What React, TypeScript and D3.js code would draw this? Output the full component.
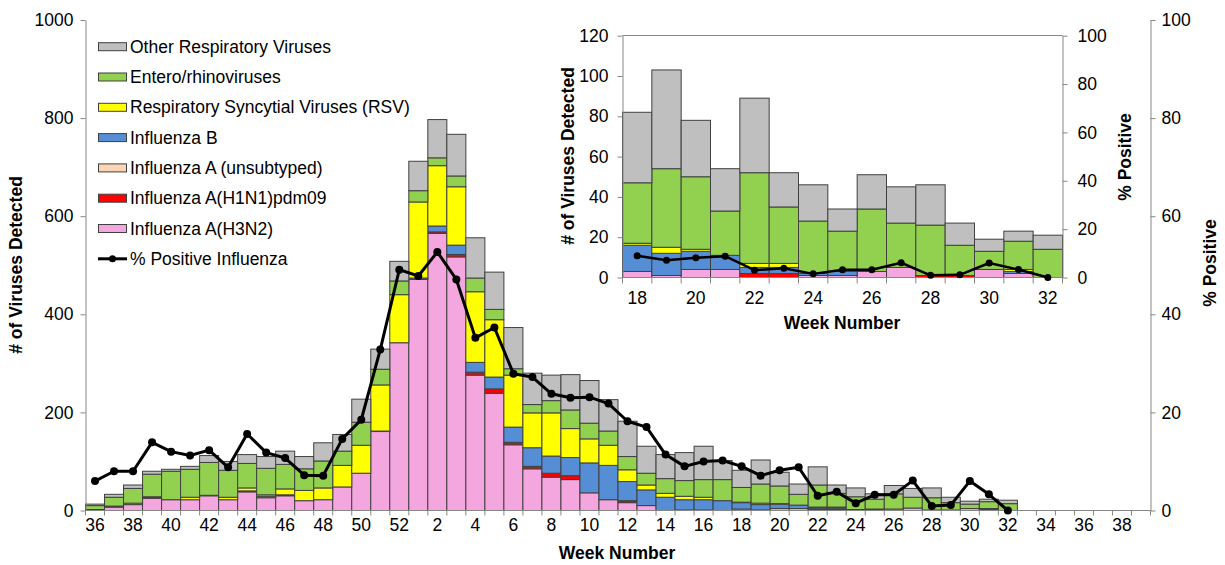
import React, { useEffect, useRef } from "react";
import * as d3 from "d3";

// x categories: surveillance weeks 36..52 then 1..39
const weeks = [36, 37, 38, 39, 40, 41, 42, 43, 44, 45, 46, 47, 48, 49, 50, 51, 52,
  1, 2, 3, 4, 5, 6, 7, 8, 9, 10, 11, 12, 13, 14, 15, 16, 17, 18, 19, 20,
  21, 22, 23, 24, 25, 26, 27, 28, 29, 30, 31, 32, 33, 34, 35, 36, 37, 38, 39];

// values for weeks 36..52, 1..32
const h3n2 = [2, 7, 12, 25, 22, 22, 30, 22, 38, 26, 30, 20, 22, 48, 76, 161, 342,
  471, 565, 517, 276, 239, 134, 85, 68, 63, 36, 22, 16, 10, 0, 0, 1, 0, 3, 1, 4, 4, 0, 0, 1, 1, 3, 5, 0, 0, 4, 2, 0];
const h1n1 = [0, 2, 0, 3, 0, 0, 1, 0, 0, 0, 0, 0, 0, 0, 0, 0, 0,
  0, 3, 5, 6, 9, 5, 5, 8, 8, 0, 0, 4, 0, 0, 1, 0, 0, 0, 0, 0, 0, 2, 2, 0, 0, 0, 0, 1, 1, 0, 0, 0];
const fluAUnsub = [0, 0, 0, 0, 0, 0, 0, 0, 2, 0, 0, 0, 0, 0, 0, 0, 0,
  0, 0, 0, 0, 0, 0, 0, 0, 0, 0, 0, 0, 0, 0, 0, 0, 0, 0, 0, 0, 0, 0, 0, 0, 0, 0, 0, 0, 0, 0, 0, 0];
const fluB = [0, 0, 0, 0, 0, 0, 0, 0, 0, 3, 2, 0, 0, 0, 0, 1, 0,
  3, 12, 19, 20, 24, 31, 38, 35, 37, 61, 70, 39, 32, 27, 21, 21, 20, 13, 11, 9, 7, 3, 3, 1, 2, 0, 0, 0, 0, 0, 1, 0];
const rsv = [0, 0, 3, 0, 0, 5, 0, 5, 6, 3, 12, 21, 24, 44, 57, 94, 98,
  155, 123, 119, 144, 117, 106, 71, 88, 59, 49, 41, 24, 10, 8, 7, 5, 0, 1, 3, 1, 0, 2, 2, 0, 0, 0, 0, 0, 0, 0, 1, 0];
const entero = [8, 18, 30, 46, 58, 57, 67, 55, 50, 54, 50, 44, 55, 29, 47, 32, 28,
  23, 16, 22, 28, 21, 13, 17, 25, 38, 32, 29, 27, 24, 30, 32, 36, 43, 30, 39, 36, 22, 45, 28, 26, 20, 31, 22, 25, 15, 9, 14, 14];
const other = [3, 6, 7, 6, 4, 6, 14, 18, 18, 24, 27, 25, 37, 34, 47, 41, 40,
  60, 78, 85, 82, 76, 84, 64, 52, 72, 87, 64, 72, 55, 49, 57, 68, 39, 35, 49, 28, 21, 37, 17, 18, 11, 17, 18, 20, 11, 6, 5, 7];
const pctPositive = [6.0, 8.0, 8.0, 13.9, 12.0, 11.2, 12.3, 8.8, 15.6, 11.8, 10.7, 7.2, 7.1, 14.6, 18.5, 32.8, 49.1,
  47.8, 52.7, 47.1, 35.2, 37.3, 27.9, 27.2, 23.8, 23.0, 23.1, 21.8, 18.2, 17.0, 11.4, 9.0, 10.0, 10.2,
  9.0, 7.1, 8.2, 8.8, 3.0, 3.8, 1.5, 3.2, 3.2, 6.1, 0.9, 1.1, 6.0, 3.3, 0];

const seriesKeys = ["h3n2", "h1n1", "unsub", "fluB", "rsv", "entero", "other"];
const seriesNames = ["Influenza A(H3N2)", "Influenza A(H1N1)pdm09", "Influenza A (unsubtyped)",
  "Influenza B", "Respiratory Syncytial Viruses (RSV)", "Entero/rhinoviruses", "Other Respiratory Viruses"];
const seriesColors = ["#F4A7DF", "#FF0000", "#FCD5B5", "#558ED5", "#FFFF00", "#92D050", "#BFBFBF"];

const mainYTicks = [0, 200, 400, 600, 800, 1000];
const insetYTicks = [0, 20, 40, 60, 80, 100, 120];
const pctTicks = [0, 20, 40, 60, 80, 100];
const insetStartWeek = 18;
const insetWeekCount = 15;

const FONT = "'Liberation Sans', Arial, sans-serif";
const AXIS = "#868686";
const FS = 17.5;

const App = () => {
  const ref = useRef<SVGSVGElement>(null);

  useEffect(() => {
    const svg = d3.select(ref.current);
    svg.selectAll("*").remove();
    svg.attr("font-family", FONT);

    const rows = h3n2.map((_, i) => ({
      i,
      h3n2: h3n2[i], h1n1: h1n1[i], unsub: fluAUnsub[i], fluB: fluB[i],
      rsv: rsv[i], entero: entero[i], other: other[i], pct: pctPositive[i],
    }));
    const color = d3.scaleOrdinal<string, string>().domain(seriesKeys).range(seriesColors);
    const series = d3.stack<any>().keys(seriesKeys)(rows);
    const fmt = d3.format("d");

    const drawPanel = (opts: any) => {
      const { left, right, top, bottom, yMax, yTicks, startIdx, count,
        leftPad, rightPad, tickLabelY, lineW, dotR, bottomTick } = opts;
      const g = svg.append("g");
      const idx = d3.range(startIdx, startIdx + count);
      const x = d3.scaleBand<number>().domain(idx).range([left, right]).padding(0);
      const y = d3.scaleLinear().domain([0, yMax]).range([bottom, top]);
      const yR = d3.scaleLinear().domain([0, 100]).range([bottom, top]);

      // bars
      g.selectAll("g.layer")
        .data(series)
        .join("g")
        .attr("fill", (d: any) => color(d.key))
        .selectAll("rect")
        .data((d: any) => d.filter((s: any) => s.data.i >= startIdx && s.data.i < startIdx + count && s[1] - s[0] > 0))
        .join("rect")
        .attr("x", (d: any) => x(d.data.i)!)
        .attr("width", x.bandwidth())
        .attr("y", (d: any) => y(d[1]))
        .attr("height", (d: any) => y(d[0]) - y(d[1]))
        .attr("stroke", "#404040")
        .attr("stroke-width", 1);

      // axes
      const styleAxis = (a: any) => {
        a.attr("font-family", FONT).attr("font-size", FS);
        a.select(".domain").attr("stroke", AXIS);
        a.selectAll(".tick line").attr("stroke", AXIS);
        a.selectAll(".tick text").attr("fill", "#000");
      };
      g.append("g")
        .attr("transform", `translate(${left},0)`)
        .call(d3.axisLeft(y).tickValues(yTicks).tickFormat(fmt).tickSize(5).tickSizeOuter(0).tickPadding(leftPad))
        .call(styleAxis);
      g.append("g")
        .attr("transform", `translate(${right},0)`)
        .call(d3.axisRight(yR).tickValues(pctTicks).tickFormat(fmt).tickSize(5).tickSizeOuter(0).tickPadding(rightPad))
        .call(styleAxis);

      g.append("line")
        .attr("x1", left).attr("x2", right).attr("y1", bottom).attr("y2", bottom)
        .attr("stroke", AXIS);
      g.selectAll("line.btick")
        .data(d3.range(0, count + 1))
        .join("line")
        .attr("x1", (k) => left + k * x.step()).attr("x2", (k) => left + k * x.step())
        .attr("y1", bottom).attr("y2", bottom + bottomTick)
        .attr("stroke", AXIS);
      g.selectAll("text.xl")
        .data(idx.filter((k) => (k - startIdx) % 2 === 0))
        .join("text")
        .attr("x", (k) => x(k)! + x.bandwidth() / 2)
        .attr("y", tickLabelY)
        .attr("text-anchor", "middle")
        .attr("font-size", FS)
        .text((k) => weeks[k]);

      // % positive line
      const pts = rows.filter((r) => r.i >= startIdx && r.i < startIdx + count);
      const line = d3.line<any>()
        .x((d) => x(d.i)! + x.bandwidth() / 2)
        .y((d) => yR(d.pct));
      g.append("path")
        .datum(pts)
        .attr("d", line)
        .attr("fill", "none")
        .attr("stroke", "#000")
        .attr("stroke-width", lineW)
        .attr("stroke-linejoin", "round");
      g.selectAll("circle")
        .data(pts)
        .join("circle")
        .attr("cx", (d) => x(d.i)! + x.bandwidth() / 2)
        .attr("cy", (d) => yR(d.pct))
        .attr("r", dotR)
        .attr("fill", "#000");
      return g;
    };

    // main chart
    drawPanel({
      left: 85.5, right: 1150.5, top: 20, bottom: 510.5, yMax: 1000, yTicks: mainYTicks,
      startIdx: 0, count: weeks.length, leftPad: 7, rightPad: 6,
      tickLabelY: 531, lineW: 3, dotR: 4, bottomTick: 5,
    });

    // inset chart
    const startIdx = weeks.indexOf(insetStartWeek);
    const inset = drawPanel({
      left: 622.5, right: 1062.5, top: 35.7, bottom: 277.5, yMax: 120, yTicks: insetYTicks,
      startIdx, count: insetWeekCount, leftPad: 9, rightPad: 10,
      tickLabelY: 304, lineW: 2.5, dotR: 3.5, bottomTick: 6,
    });
    inset.append("line")
      .attr("x1", 622.5).attr("x2", 1062.5).attr("y1", 35.5).attr("y2", 35.5)
      .attr("stroke", AXIS);

    // axis titles
    const title = (txt: string, x: number, y: number, rot: boolean) => {
      svg.append("text")
        .attr("transform", `translate(${x},${y})${rot ? " rotate(-90)" : ""}`)
        .attr("text-anchor", "middle")
        .attr("dy", "0.35em")
        .attr("font-size", FS)
        .attr("font-weight", "bold")
        .text(txt);
    };
    title("# of Viruses Detected", 16, 265, true);
    title("% Positive", 1210, 263, true);
    title("Week Number", 617, 553, false);
    title("# of Viruses Detected", 568, 156, true);
    title("% Positive", 1125, 157, true);
    title("Week Number", 842, 323, false);

    // legend
    const legend = svg.append("g");
    const order = [6, 5, 4, 3, 2, 1, 0];
    order.forEach((s, r) => {
      const cy = 46.7 + r * 30.3;
      legend.append("rect")
        .attr("x", 98.5).attr("y", cy - 4).attr("width", 28).attr("height", 8)
        .attr("fill", seriesColors[s]).attr("stroke", "#404040");
      legend.append("text")
        .attr("x", 130).attr("y", cy).attr("dy", "0.35em")
        .attr("font-size", FS)
        .text(seriesNames[s]);
    });
    const ly = 46.7 + 7 * 30.3;
    legend.append("line")
      .attr("x1", 98).attr("x2", 127).attr("y1", ly).attr("y2", ly)
      .attr("stroke", "#000").attr("stroke-width", 3);
    legend.append("circle").attr("cx", 112.5).attr("cy", ly).attr("r", 3.5).attr("fill", "#000");
    legend.append("text")
      .attr("x", 130).attr("y", ly).attr("dy", "0.35em")
      .attr("font-size", FS)
      .text("% Positive Influenza");
  }, []);

  return (
    <svg ref={ref} width={1225} height={565}
      style={{ position: "absolute", left: 0, top: 0, background: "#fff" }} />
  );
};

export default App;
